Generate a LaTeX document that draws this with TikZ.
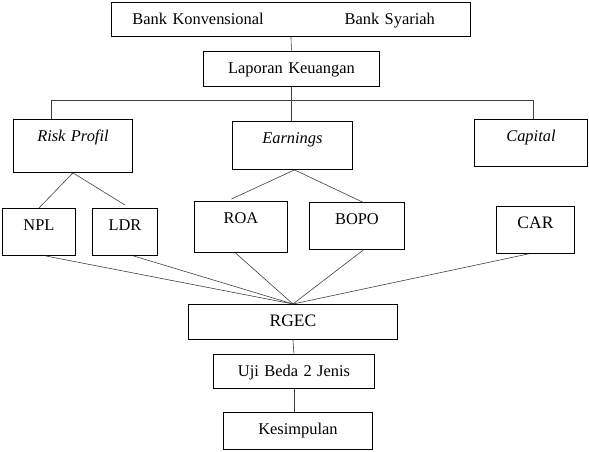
\documentclass[tikz,border=0pt]{standalone}
\usepackage{fontspec}
\setmainfont{Liberation Serif}
\usepackage{tikz}
\usetikzlibrary{calc}

\begin{document}
\begin{tikzpicture}[x=1pt,y=-1pt,
	kotak/.style={draw, line width=0.9pt, inner sep=0pt, anchor=north west, align=center, text height=22pt, font=\fontsize{16.4}{19}\selectfont},
	besar/.style={font=\fontsize{17.5}{20}\selectfont},
	garis/.style={line width=0.6pt, black!75}]
		\useasboundingbox (0,0) rectangle (589,452);
		% kotak-kotak
		\node[kotak, text width=359pt, text depth=12pt, align=left] (bank) at (111,2) {\hspace*{21pt}Bank Konvensional\hspace{81pt}Bank Syariah};
		\node[kotak, text width=176pt, text depth=13pt] (lap) at (203,51) {Laporan Keuangan};
		\node[kotak, text width=119pt, text depth=31pt] (risk) at (13,119) {\textit{Risk Profil}};
		\node[kotak, text width=120pt, text depth=26pt] (earn) at (232,121) {\textit{Earnings}};
		\node[kotak, text width=113pt, text depth=25pt] (cap) at (474,119) {\textit{Capital}};
		\node[kotak, text width=73pt, text depth=25pt] (npl) at (2,208) {NPL};
		\node[kotak, text width=65pt, text depth=25pt] (ldr) at (92,208) {LDR};
		\node[kotak, text width=93pt, text depth=29pt] (roa) at (194,201) {ROA};
		\node[kotak, text width=95pt, text depth=25pt] (bopo) at (309,202) {BOPO};
		\node[kotak, besar, text width=78pt, text depth=25pt] (car) at (496,206) {CAR};
		\node[kotak, besar, text width=209pt, text depth=13pt] (rgec) at (188,304) {RGEC};
		\node[kotak, text width=161pt, text depth=12pt] (uji) at (213,354) {Uji Beda 2 Jenis};
		\node[kotak, text width=149pt, text depth=15pt] (kes) at (223,412) {Kesimpulan};
		% garis penghubung
		\coordinate (kiri) at (51,100);
		\coordinate (kanan) at (533,100);
		\draw[garis] (bank.south) -- (lap.north);
		\draw[garis] (lap.south) -- (lap.south |- earn.north);
		\draw[garis] (kiri) -- (kanan);
		\draw[garis] (kiri) -- (kiri |- risk.north);
		\draw[garis] (kanan) -- (kanan |- cap.north);
		\draw[garis] (risk.south) -- (npl.north);
		\draw[garis] (risk.south) -- ([yshift=3pt]ldr.north);
		\draw[garis] ([xshift=2pt]earn.south) -- ([xshift=-9.5pt,yshift=2pt]roa.north);
		\draw[garis] ([xshift=2pt]earn.south) -- ([xshift=5.5pt]bopo.north);
		\draw[garis] ([xshift=6.5pt]npl.south) -- (rgec.north);
		\draw[garis] ([xshift=8.5pt]ldr.south) -- (rgec.north);
		\draw[garis] ([xshift=-5.5pt]roa.south) -- (rgec.north);
		\draw[garis] ([xshift=6.5pt]bopo.south) -- (rgec.north);
		\draw[garis] ([xshift=-7pt]car.south) -- (rgec.north);
		\draw[garis] (rgec.south) -- (uji.north);
		\draw[garis] (uji.south) -- (uji.south |- kes.north);
\end{tikzpicture}
\end{document}
